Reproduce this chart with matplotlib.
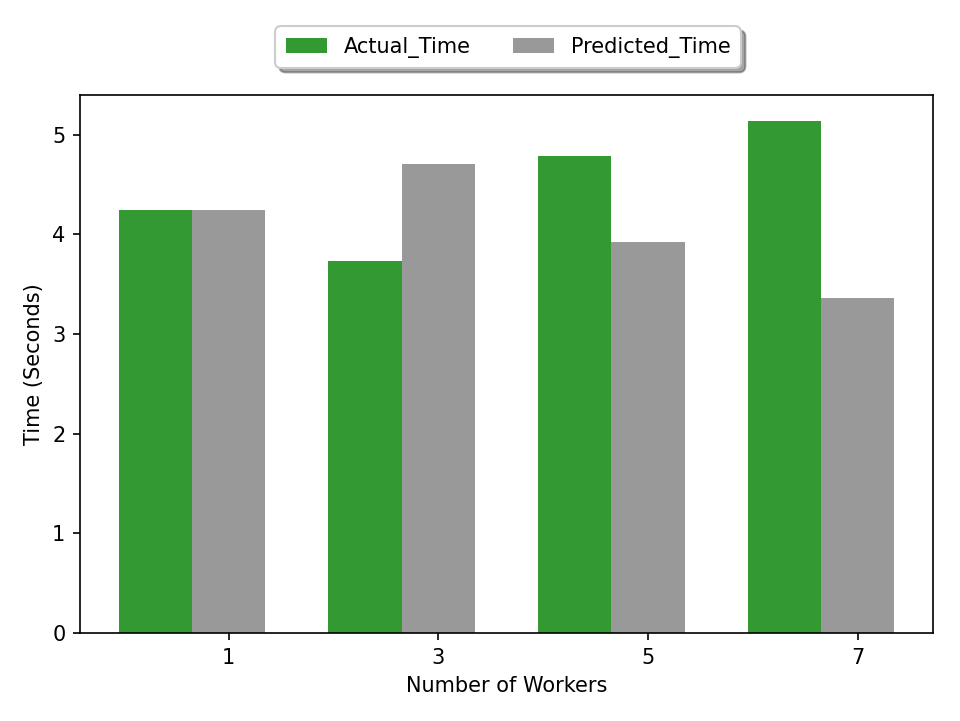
import matplotlib
matplotlib.use("Agg")
import matplotlib.pyplot as plt
import numpy as np

workers = ["1", "3", "5", "7"]
actual_time = [4.245, 3.73, 4.79, 5.14]
predicted_time = [4.245, 4.70, 3.92, 3.36]

fig = plt.figure(figsize=(6.4, 721 / 150), dpi=150)
ax = fig.add_axes([80 / 960, 1 - 633 / 721, (933 - 80) / 960, (633 - 95) / 721])

x = np.arange(len(workers))
width = 0.35
ax.bar(x - width, actual_time, width, color="g", alpha=0.8, label="Actual_Time")
ax.bar(x, predicted_time, width, color="gray", alpha=0.8, label="Predicted_Time")

ax.set_xticks(x)
ax.set_xticklabels(workers)
ax.set_xlabel("Number of Workers")
ax.set_ylabel("Time (Seconds)")

leg = ax.legend(loc="upper center", bbox_to_anchor=(0.502, 1.147), ncol=2, shadow=True,
                fancybox=True, frameon=True, borderpad=0.5)
leg.get_frame().set_boxstyle("round", pad=0, rounding_size=0.3)

fig.savefig("out.png", dpi=150)
